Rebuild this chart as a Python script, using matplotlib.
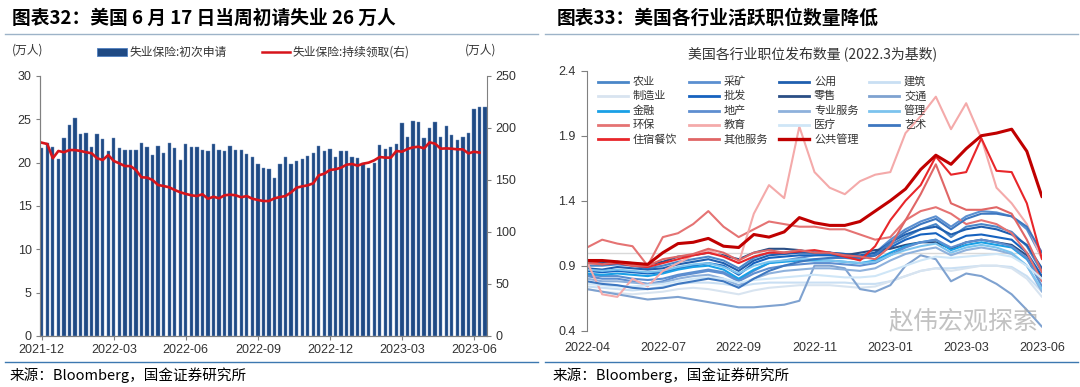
import numpy as np
import pandas as pd
import matplotlib
matplotlib.use('Agg')
import matplotlib.pyplot as plt
from matplotlib.lines import Line2D
from matplotlib.patches import Rectangle

plt.rcParams['font.family'] = ['Liberation Sans', 'Noto Sans CJK SC', 'DejaVu Sans']
CJK = ['Noto Sans CJK SC', 'DejaVu Sans']

# ---- left chart: weekly jobless claims (万人) ----
claims = [21.7, 22.3, 21.85, 20.4, 22.9, 24.4, 25.2, 23.3, 23.45, 21.85,
          23.3, 22.7, 21.4, 22.9, 21.7, 21.5, 21.5, 21.5, 22.3, 21.85,
          20.9, 21.9, 21.15, 22.3, 21.65, 20.3, 22.2, 21.85, 21.8, 21.5,
          21.35, 22.2, 21.5, 21.3, 21.9, 21.5, 21.5, 21.0, 20.6, 19.8,
          19.35, 19.25, 18.2, 19.9, 20.6, 19.9, 20.2, 20.4, 20.75, 21.1,
          21.95, 21.4, 21.6, 20.6, 21.3, 21.4, 20.6, 20.55, 20.0, 19.4,
          20.0, 22.0, 21.6, 21.8, 22.2, 24.6, 23.0, 24.8, 24.7, 22.8,
          24.0, 24.7, 23.0, 24.2, 23.2, 22.6, 23.0, 23.4, 26.2, 26.4, 26.4]
continuing = [185.9, 184.6, 170.9, 177.9, 176.7, 178.8, 178.8, 177.9, 176.7, 175.7,
              170.9, 169.2, 174.0, 168.3, 166.0, 163.4, 163.4, 159.6, 152.6, 152.3,
              150.0, 145.2, 144.2, 143.0, 140.4, 138.2, 136.6, 135.3, 134.6, 136.3,
              132.0, 133.9, 132.4, 135.3, 135.9, 135.3, 133.4, 134.6, 132.0, 130.8,
              129.8, 129.8, 132.4, 133.6, 134.6, 138.1, 142.6, 143.9, 144.9, 146.8,
              154.5, 156.1, 159.6, 160.3, 161.8, 164.7, 165.4, 163.8, 165.7, 166.7,
              168.9, 172.1, 171.5, 171.5, 177.9, 177.2, 179.8, 181.4, 182.0, 180.4,
              186.2, 184.9, 180.1, 180.4, 180.1, 179.5, 179.5, 175.6, 177.2, 176.3, np.nan]
weeks = pd.date_range('2021-12-04', periods=len(claims), freq='W-SAT')

# ---- right chart: job postings by industry (2022.3 = 1) ----
period_labels = ['2022-04', '2022-07', '2022-09', '2022-11', '2023-01', '2023-03', '2023-06']
agri = [0.90, 0.90, 0.91, 0.90, 0.88, 0.90, 0.93, 0.95, 0.97, 0.94, 0.88, 0.96, 1.00, 1.00, 1.01, 1.00,
        1.00, 0.99, 0.97, 0.98, 1.06, 1.12, 1.18, 1.22, 1.12, 1.20, 1.22, 1.20, 1.16, 1.05, 0.85]
mining = [0.83, 0.82, 0.82, 0.80, 0.79, 0.80, 0.83, 0.85, 0.87, 0.85, 0.79, 0.86, 0.92, 0.94, 0.96, 0.98,
          0.99, 0.98, 0.97, 1.00, 1.10, 1.18, 1.24, 1.28, 1.20, 1.28, 1.32, 1.31, 1.28, 1.18, 0.96]
utilities = [0.88, 0.87, 0.89, 0.88, 0.87, 0.88, 0.91, 0.93, 0.95, 0.92, 0.86, 0.94, 0.98, 0.99, 1.00, 1.00,
             1.00, 0.99, 0.98, 1.00, 1.08, 1.14, 1.18, 1.20, 1.14, 1.18, 1.20, 1.18, 1.14, 1.06, 0.88]
construction = [0.74, 0.73, 0.72, 0.71, 0.72, 0.74, 0.76, 0.77, 0.77, 0.76, 0.74, 0.76, 0.77, 0.77, 0.77, 0.77,
                0.77, 0.77, 0.76, 0.76, 0.78, 0.82, 0.86, 0.88, 0.88, 0.89, 0.90, 0.90, 0.89, 0.82, 0.70]
manufacturing = [0.72, 0.70, 0.69, 0.68, 0.69, 0.70, 0.72, 0.73, 0.72, 0.70, 0.68, 0.71, 0.73, 0.74, 0.75, 0.75,
                 0.75, 0.74, 0.73, 0.74, 0.78, 0.82, 0.86, 0.88, 0.86, 0.88, 0.90, 0.90, 0.88, 0.80, 0.66]
wholesale = [0.86, 0.85, 0.86, 0.85, 0.84, 0.85, 0.88, 0.90, 0.92, 0.90, 0.83, 0.92, 0.96, 0.97, 0.98, 0.98,
             0.98, 0.97, 0.96, 0.98, 1.04, 1.10, 1.14, 1.15, 1.08, 1.13, 1.14, 1.12, 1.10, 1.00, 0.82]
retail = [0.92, 0.92, 0.93, 0.92, 0.91, 0.93, 0.97, 0.98, 1.00, 0.98, 0.95, 1.00, 1.03, 1.03, 1.02, 1.00,
          1.00, 0.98, 1.00, 1.02, 1.03, 1.06, 1.08, 1.08, 1.03, 1.08, 1.10, 1.08, 1.06, 0.98, 0.80]
transport = [0.72, 0.70, 0.68, 0.66, 0.64, 0.65, 0.66, 0.64, 0.62, 0.60, 0.58, 0.58, 0.59, 0.60, 0.63, 0.90,
             0.90, 0.88, 0.72, 0.70, 0.75, 0.90, 0.98, 0.95, 0.78, 0.84, 0.82, 0.76, 0.68, 0.56, 0.43]
finance = [0.84, 0.83, 0.84, 0.83, 0.82, 0.84, 0.87, 0.89, 0.90, 0.87, 0.80, 0.87, 0.92, 0.93, 0.94, 0.94,
           0.94, 0.93, 0.92, 0.94, 1.00, 1.05, 1.08, 1.10, 1.02, 1.06, 1.08, 1.06, 1.04, 0.95, 0.78]
real_estate = [0.82, 0.80, 0.80, 0.78, 0.76, 0.78, 0.82, 0.84, 0.86, 0.84, 0.78, 0.84, 0.88, 0.90, 0.91, 0.92,
               0.92, 0.91, 0.90, 0.92, 0.98, 1.04, 1.08, 1.10, 1.04, 1.08, 1.10, 1.08, 1.05, 0.96, 0.74]
professional = [0.80, 0.78, 0.78, 0.77, 0.76, 0.77, 0.80, 0.82, 0.83, 0.80, 0.75, 0.80, 0.84, 0.86, 0.87, 0.88,
                0.88, 0.87, 0.86, 0.88, 0.94, 0.99, 1.02, 1.04, 0.98, 1.02, 1.04, 1.02, 0.99, 0.90, 0.70]
management = [0.87, 0.86, 0.87, 0.86, 0.85, 0.86, 0.89, 0.91, 0.92, 0.89, 0.84, 0.90, 0.93, 0.94, 0.95, 0.95,
              0.94, 0.93, 0.92, 0.93, 0.98, 1.02, 1.05, 1.07, 1.00, 1.04, 1.06, 1.04, 1.00, 0.90, 0.72]
environment = [1.04, 1.10, 1.07, 1.05, 0.90, 1.12, 1.15, 1.22, 1.32, 1.20, 1.12, 1.18, 1.24, 1.22, 1.20, 1.20,
               1.18, 1.18, 1.14, 1.10, 1.12, 1.25, 1.32, 1.35, 1.30, 1.22, 1.25, 1.22, 1.15, 1.00, 0.78]
education = [0.93, 0.68, 0.66, 0.80, 0.74, 0.86, 0.92, 0.98, 1.02, 0.97, 0.92, 1.30, 1.52, 1.42, 1.97, 1.62,
             1.50, 1.45, 1.55, 1.60, 1.62, 1.92, 2.05, 2.20, 1.95, 2.15, 1.88, 1.50, 1.38, 1.22, 0.95]
healthcare = [0.76, 0.75, 0.74, 0.74, 0.75, 0.76, 0.78, 0.80, 0.81, 0.80, 0.77, 0.79, 0.80, 0.81, 0.82, 0.83,
              0.82, 0.81, 0.81, 0.82, 0.86, 0.90, 0.94, 0.97, 0.96, 0.97, 0.98, 0.99, 0.97, 0.90, 0.80]
arts = [0.78, 0.76, 0.75, 0.73, 0.72, 0.73, 0.76, 0.78, 0.80, 0.78, 0.73, 0.80, 0.86, 0.90, 0.93, 0.95,
        0.96, 0.96, 0.95, 0.98, 1.08, 1.16, 1.22, 1.26, 1.18, 1.26, 1.30, 1.30, 1.28, 1.20, 1.00]
hospitality = [0.94, 0.91, 0.92, 0.90, 0.89, 0.92, 0.95, 0.98, 1.00, 0.97, 0.92, 0.97, 1.00, 1.00, 1.01, 1.02,
               1.00, 0.97, 0.94, 1.05, 1.25, 1.40, 1.52, 1.74, 1.60, 1.62, 1.88, 1.63, 1.62, 1.38, 0.95]
other_services = [0.92, 0.91, 0.93, 0.90, 0.90, 0.95, 0.97, 0.99, 1.03, 1.00, 0.94, 1.00, 1.02, 1.00, 1.02, 1.00,
                  1.00, 0.98, 0.97, 0.95, 1.05, 1.25, 1.45, 1.68, 1.38, 1.33, 1.33, 1.35, 1.30, 1.10, 0.85]
public_admin = [0.94, 0.94, 0.93, 0.92, 0.91, 1.00, 1.07, 1.08, 1.11, 1.05, 1.04, 1.14, 1.12, 1.16, 1.27, 1.23,
                1.21, 1.21, 1.24, 1.32, 1.40, 1.49, 1.64, 1.75, 1.68, 1.80, 1.90, 1.92, 1.95, 1.78, 1.43]

series = [('农业', agri), ('采矿', mining), ('公用', utilities), ('建筑', construction),
          ('制造业', manufacturing), ('批发', wholesale), ('零售', retail), ('交通', transport),
          ('金融', finance), ('地产', real_estate), ('专业服务', professional), ('管理', management),
          ('环保', environment), ('教育', education), ('医疗', healthcare), ('艺术', arts),
          ('住宿餐饮', hospitality), ('其他服务', other_services), ('公共管理', public_admin)]

colors = {'农业': '#4A86C8', '采矿': '#5B8FD0', '公用': '#1F5FAF', '建筑': '#C9DFF3',
          '制造业': '#D8E4F0', '批发': '#1662BF', '零售': '#2A4E85', '交通': '#7FA2D0',
          '金融': '#1AA0E6', '地产': '#5E8ED0', '专业服务': '#8EB1DC', '管理': '#7CC3EE',
          '环保': '#E57373', '教育': '#F4AAAA', '医疗': '#CFE6F7', '艺术': '#3D77C0',
          '住宿餐饮': '#E8262A', '其他服务': '#E06666', '公共管理': '#C00000'}

W, H = 1080, 387


def fx(x):
    return x / W


def fy(y):
    return 1 - y / H


fig = plt.figure(figsize=(W / 100, H / 100), dpi=100)
grey = '#808080'
txt = '#333333'

# ---------------- left panel ----------------
ax1 = fig.add_axes([fx(40), fy(336), (487 - 40) / W, (336 - 76) / H])
ax1.bar(weeks, claims, width=4.2, color='#1F4A84', edgecolor='#7090C0', linewidth=0.3)
ax1.set_ylim(0, 30)
ax1.set_yticks(range(0, 31, 5))
ax1.set_xlim(weeks[0] - pd.Timedelta(days=2.2), weeks[-1] + pd.Timedelta(days=2.5))
ax1.set_xticks(weeks[::13])
ax1.set_xticklabels([d.strftime('%Y-%m') for d in weeks[::13]])

ax2 = ax1.twinx()
ax2.plot(weeks, continuing, color='#D7141B', lw=1.9)
ax2.set_ylim(0, 250)
ax2.set_yticks(range(0, 251, 50))

for a in (ax1, ax2):
    a.spines['top'].set_visible(False)
    for s in ('left', 'right', 'bottom'):
        a.spines[s].set_color(grey)
        a.spines[s].set_linewidth(0.8)
    a.tick_params(length=3, width=0.8, color=grey, labelsize=9, labelcolor=txt, pad=3)
ax1.spines['right'].set_visible(False)

fig.text(fx(12), fy(18), '图表32：美国 6 月 17 日当周初请失业 26 万人', family=CJK,
         fontsize=13.5, fontweight='bold', va='center', style='italic')
fig.text(fx(12), fy(50), '(万人)', family=CJK, fontsize=8.5, va='center', color=txt)
fig.text(fx(465), fy(50), '(万人)', family=CJK, fontsize=8.5, va='center', color=txt)
fig.patches.append(Rectangle((fx(97), fy(56)), 30 / W, 8 / H, transform=fig.transFigure,
                             facecolor='#1F4A84', edgecolor='#4F7FC0', lw=0.6))
fig.text(fx(130), fy(52), '失业保险:初次申请', family=CJK, fontsize=8.5, va='center', color=txt)
fig.lines.append(Line2D([fx(262), fx(290)], [fy(52), fy(52)], transform=fig.transFigure,
                        color='#D7141B', lw=1.8))
fig.text(fx(293), fy(52), '失业保险:持续领取(右)', family=CJK, fontsize=8.5, va='center', color=txt)

# ---------------- right panel ----------------
ax3 = fig.add_axes([fx(587), fy(330.7), (1042 - 587) / W, 260 / H])
xi = np.arange(len(agri))
ax3.axhline(1.0, color='#D9D9D9', lw=1, zorder=0)
for name, vals in series:
    lw = 2.2 if name == '公共管理' else 1.5
    ax3.plot(xi, vals, color=colors[name], lw=lw, solid_capstyle='round')
ax3.set_xlim(0, len(agri) - 1)
ax3.set_ylim(0.4, 2.4)
ax3.set_yticks([0.4, 0.9, 1.4, 1.9, 2.4])
ax3.set_yticklabels(['%.1f' % v for v in [0.4, 0.9, 1.4, 1.9, 2.4]])
ax3.set_xticks(np.linspace(0, len(agri) - 1, len(period_labels)))
ax3.set_xticklabels(period_labels)
for s in ('top', 'right', 'bottom'):
    ax3.spines[s].set_visible(False)
ax3.spines['left'].set_color(grey)
ax3.spines['left'].set_linewidth(0.8)
ax3.tick_params(axis='y', length=4, width=0.8, color=grey, labelsize=9, labelcolor=txt, pad=4)
ax3.tick_params(axis='x', length=0, labelsize=9, labelcolor=txt, pad=8)

fig.text(fx(557), fy(18), '图表33：美国各行业活跃职位数量降低', family=CJK,
         fontsize=13.5, fontweight='bold', va='center', style='italic')
fig.text(fx(813), fy(55), '美国各行业职位发布数量 (2022.3为基数)', family=CJK,
         fontsize=10, ha='center', va='center', color=txt)

# legend, 4 columns row by row
col_x = [598, 689, 779, 869]
for k, (name, vals) in enumerate(series):
    r, c = divmod(k, 4)
    y = 81.7 + 14.4 * r
    lw = 2.4 if name == '公共管理' else 2.0
    fig.lines.append(Line2D([fx(col_x[c]), fx(col_x[c] + 30)], [fy(y), fy(y)],
                            transform=fig.transFigure, color=colors[name], lw=lw))
    fig.text(fx(col_x[c] + 35), fy(y), name, family=CJK, fontsize=8, va='center', color=txt)

# watermark (kept clear of the tick labels)
fig.text(fx(963), fy(321), '赵伟宏观探索', family=CJK, fontsize=18, color='#A8A8A8',
         alpha=0.7, ha='center', va='center')

# separators and sources
for x0, x1 in ((5, 538), (545, 1078)):
    fig.lines.append(Line2D([fx(x0), fx(x1)], [fy(34), fy(34)], transform=fig.transFigure,
                            color='#9DB3C8', lw=1))
    fig.lines.append(Line2D([fx(x0), fx(x1)], [fy(362), fy(362)], transform=fig.transFigure,
                            color='#3C78B0', lw=1))
fig.text(fx(10), fy(375), '来源：Bloomberg，国金证券研究所', family=CJK, fontsize=10.5, va='center')
fig.text(fx(553), fy(375), '来源：Bloomberg，国金证券研究所', family=CJK, fontsize=10.5, va='center')

fig.savefig('out.png', dpi=100)
